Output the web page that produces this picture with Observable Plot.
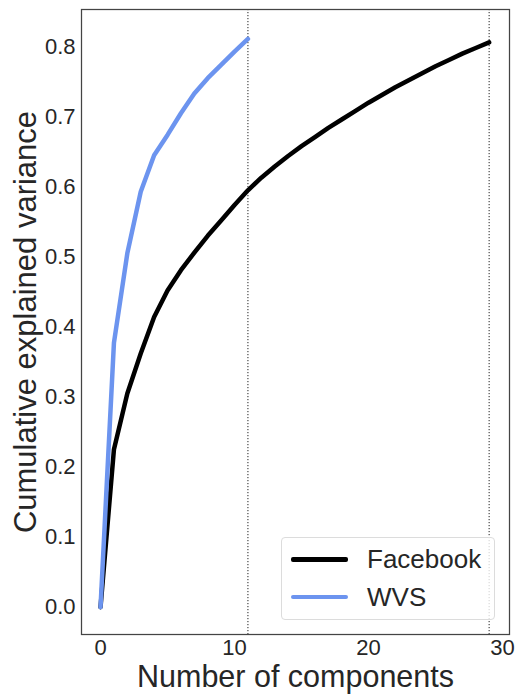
<!DOCTYPE html>
<html>
<head>
<meta charset="utf-8">
<script src="https://cdn.jsdelivr.net/npm/d3@7"></script>
<script src="https://cdn.jsdelivr.net/npm/@observablehq/plot@0.6"></script>
<style>
  body { margin: 0; background: white; }
  #wrap { position: relative; width: 519px; height: 694px; font-family: "Liberation Sans", Arial, sans-serif; }
  #legend { position: absolute; left: 281px; top: 537px; width: 214px; height: 83px;
    border: 1px solid #dcdcdc; border-radius: 4px; background: rgba(255,255,255,0.8); box-sizing: border-box; }
  .item { position: absolute; left: 0; height: 30px; width: 100%; }
  .swatch { position: absolute; left: 9px; width: 57px; height: 4.5px; border-radius: 2px; }
  .lab { position: absolute; left: 85px; font-size: 26px; color: #262626; line-height: 30px; top: 0; }
</style>
</head>
<body>
<div id="wrap"></div>
<script>
const fbComponents = [0,1,2,3,4,5,6,7,8,9,10,11,12,13,14,15,16,17,18,19,20,21,22,23,24,25,26,27,28,29];
const fbVariance = [0, 0.225, 0.305, 0.362, 0.414, 0.452, 0.481, 0.506, 0.530, 0.552, 0.574, 0.595, 0.613, 0.629, 0.644, 0.658, 0.671, 0.684, 0.696, 0.708, 0.720, 0.731, 0.742, 0.752, 0.762, 0.772, 0.781, 0.790, 0.798, 0.806];
const wvsComponents = [0,1,2,3,4,5,6,7,8,9,10,11];
const wvsVariance = [0, 0.377, 0.505, 0.593, 0.645, 0.674, 0.705, 0.733, 0.755, 0.774, 0.793, 0.811];
const cutoffs = [11, 29];
const xTicks = [0, 10, 20, 30];
const yTicks = [0, 0.1, 0.2, 0.3, 0.4, 0.5, 0.6, 0.7, 0.8];
const seriesNames = ["Facebook", "WVS"];
const seriesColors = ["#000000", "#6c94ef"];
const xLabel = "Number of components";
const yLabel = "Cumulative explained variance";

const fb = fbComponents.map((c, i) => ({c, v: fbVariance[i]}));
const wvs = wvsComponents.map((c, i) => ({c, v: wvsVariance[i]}));

const chart = Plot.plot({
  width: 519,
  height: 694,
  marginLeft: 81,
  marginRight: 10,
  marginTop: 9,
  marginBottom: 60,
  style: {fontFamily: "'Liberation Sans', Arial, sans-serif", fontSize: "22px", color: "#262626", background: "white", overflow: "visible"},
  x: {domain: [-1.42, 30.52], label: null},
  y: {domain: [-0.039, 0.853], label: null},
  marks: [
    Plot.ruleX(cutoffs, {stroke: "#222", strokeWidth: 1, strokeDasharray: "1.2,1.8"}),
    Plot.line(fb, {x: "c", y: "v", stroke: seriesColors[0], strokeWidth: 4.5}),
    Plot.line(wvs, {x: "c", y: "v", stroke: seriesColors[1], strokeWidth: 4.5}),
    Plot.frame({stroke: "#444", strokeWidth: 1.25}),
    Plot.axisX({ticks: xTicks, tickSize: 0, tickPadding: 5, label: null, fontSize: 22}),
    Plot.axisY({ticks: yTicks, tickFormat: ".1f", tickSize: 0, tickPadding: 6, label: null, fontSize: 22}),
    Plot.text([xLabel], {frameAnchor: "bottom", textAnchor: "middle", lineAnchor: "bottom", dy: 52, fontSize: 30.5, fill: "#262626"}),
    Plot.text([yLabel], {frameAnchor: "left", textAnchor: "middle", rotate: -90, dx: -55, fontSize: 31, fill: "#262626"})
  ]
});
const wrap = document.getElementById("wrap");
wrap.appendChild(chart);

const legend = document.createElement("div");
legend.id = "legend";
seriesNames.forEach((name, i) => {
  const item = document.createElement("div");
  item.className = "item";
  item.style.top = (6 + i * 37.5) + "px";
  const sw = document.createElement("div");
  sw.className = "swatch";
  sw.style.top = "13px";
  sw.style.background = seriesColors[i];
  const lab = document.createElement("div");
  lab.className = "lab";
  lab.textContent = name;
  item.appendChild(sw);
  item.appendChild(lab);
  legend.appendChild(item);
});
wrap.appendChild(legend);
</script>
</body>
</html>
